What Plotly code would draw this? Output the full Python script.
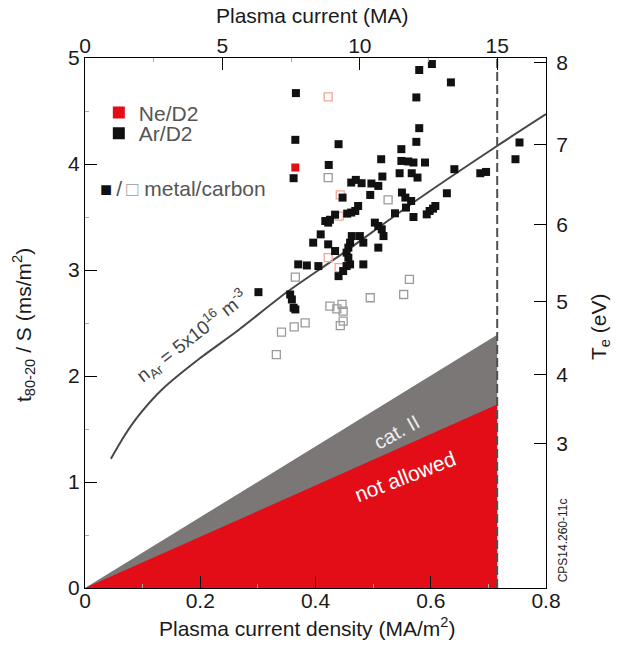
import plotly.graph_objects as go

# ---------------- data ----------------
# Ar/D2, metal wall (filled black squares): current density (MA/m2), t80-20/S (ms/m2)
ar_metal_j = [0.602, 0.580, 0.635, 0.366, 0.575, 0.580, 0.365, 0.575, 0.440, 0.549,
              0.514, 0.549, 0.561, 0.570, 0.590, 0.423, 0.641, 0.362, 0.546, 0.567,
              0.577, 0.516, 0.686, 0.696, 0.462, 0.470, 0.480, 0.497, 0.509, 0.754,
              0.747, 0.628, 0.495, 0.447, 0.550, 0.556, 0.566, 0.474, 0.469, 0.462,
              0.455, 0.608, 0.604, 0.598, 0.593, 0.538, 0.570, 0.557, 0.434, 0.425,
              0.417, 0.422, 0.503, 0.509, 0.515, 0.518, 0.409, 0.396, 0.477, 0.483,
              0.463, 0.460, 0.457, 0.454, 0.422, 0.434, 0.509, 0.370, 0.385, 0.405,
              0.457, 0.460, 0.454, 0.448, 0.440, 0.483, 0.301, 0.356, 0.359, 0.362,
              0.365]
ar_metal_t = [4.943, 4.887, 4.770, 4.669, 4.628, 4.338, 4.228, 4.209, 4.187, 4.140,
              4.045, 4.029, 4.024, 4.014, 4.014, 3.991, 3.951, 3.866, 3.913, 3.913,
              3.872, 3.882, 3.913, 3.925, 3.825, 3.850, 3.819, 3.816, 3.793, 4.203,
              4.045, 3.724, 3.708, 3.683, 3.731, 3.683, 3.651, 3.604, 3.557, 3.542,
              3.532, 3.604, 3.579, 3.557, 3.525, 3.535, 3.500, 3.589, 3.522, 3.474,
              3.462, 3.447, 3.447, 3.415, 3.384, 3.320, 3.336, 3.258, 3.320, 3.258,
              3.320, 3.258, 3.211, 3.164, 3.242, 3.179, 3.211, 3.053, 3.043, 3.037,
              3.116, 3.053, 3.037, 2.990, 2.942, 3.053, 2.791, 2.769, 2.722, 2.644,
              2.628]

# Ne/D2, metal wall (filled red)
ne_metal_j = [0.365]
ne_metal_t = [3.967]

# Ar/D2, carbon wall (open grey squares)
ar_carbon_j = [0.422, 0.526, 0.365, 0.563, 0.495, 0.553, 0.425, 0.446, 0.437, 0.448,
               0.448, 0.443, 0.382, 0.363, 0.341, 0.332]
ar_carbon_t = [3.872, 3.661, 2.933, 2.911, 2.738, 2.769, 2.659, 2.675, 2.634, 2.612,
               2.517, 2.476, 2.502, 2.464, 2.413, 2.202]

# Ne/D2, carbon wall (open light-red squares)
ne_carbon_j = [0.422, 0.443, 0.441, 0.422, 0.441]
ne_carbon_t = [4.634, 3.708, 3.509, 3.116, 3.022]

# n_Ar = 5e16 m^-3 curve
curve_j = [0.045, 0.070, 0.095, 0.135, 0.200, 0.263, 0.350, 0.443, 0.576, 0.715, 0.800]
curve_t = [1.22, 1.45, 1.64, 1.88, 2.17, 2.42, 2.79, 3.14, 3.66, 4.17, 4.47]

# limits (at the 15 MA line)
ip_limit = 15.0            # MA
ip_per_j = 20.97           # MA per (MA/m2)
limit_red_t = 1.73         # "not allowed" boundary at 15 MA
limit_cat2_t = 2.39        # "cat. II" boundary at 15 MA

# right axis (Te) tick labels and their positions in t80-20/S units
te_labels = ["3", "4", "5", "6", "7", "8"]
te_tick_t = [1.365, 2.01, 2.70, 3.43, 4.18, 4.96]

x_ticks = [0, 0.2, 0.4, 0.6, 0.8]
x_ticklabels = ["0", "0.2", "0.4", "0.6", "0.8"]
ip_ticks = [0, 5, 10, 15]

# ---------------- figure ----------------
FONT = "Liberation Sans, Arial, Helvetica, sans-serif"
j_lim = ip_limit / ip_per_j

fig = go.Figure()

fig.add_trace(go.Scatter(
    x=[0, j_lim, j_lim, 0], y=[0, limit_cat2_t, 0, 0],
    fill="toself", fillcolor="#7a7776", line=dict(width=0), mode="lines",
    showlegend=False, hoverinfo="skip"))
fig.add_trace(go.Scatter(
    x=[0, j_lim, j_lim, 0], y=[0, limit_red_t, 0, 0],
    fill="toself", fillcolor="#e30d17", line=dict(width=0), mode="lines",
    showlegend=False, hoverinfo="skip"))

fig.add_trace(go.Scatter(
    x=curve_j, y=curve_t, mode="lines",
    line=dict(color="#4a4545", width=2, shape="spline", smoothing=0.6),
    showlegend=False, hoverinfo="skip"))

fig.add_trace(go.Scatter(
    x=ar_carbon_j, y=ar_carbon_t, mode="markers", showlegend=False,
    marker=dict(symbol="square-open", size=8, color="#9b9b9b", line=dict(width=1.3))))
fig.add_trace(go.Scatter(
    x=ne_carbon_j, y=ne_carbon_t, mode="markers", showlegend=False,
    marker=dict(symbol="square-open", size=8, color="#f2a596", line=dict(width=1.3))))
fig.add_trace(go.Scatter(
    x=ar_metal_j, y=ar_metal_t, mode="markers", name="Ar/D2", legend="legend2",
    marker=dict(symbol="square", size=8, color="#111111", line=dict(width=0))))
fig.add_trace(go.Scatter(
    x=ne_metal_j, y=ne_metal_t, mode="markers", name="Ne/D2", legend="legend",
    marker=dict(symbol="square", size=8, color="#e30d17", line=dict(width=0))))

# 15 MA limit (drawn in the top-axis units)
fig.add_trace(go.Scatter(
    x=[ip_limit, ip_limit], y=[0, 5], xaxis="x2", yaxis="y2", mode="lines",
    line=dict(color="#505050", width=2, dash="9px,4px"),
    showlegend=False, hoverinfo="skip"))

tickfont = dict(family=FONT, size=21, color="#1a1a1a")
common = dict(showline=True, linecolor="black", linewidth=1, showgrid=False,
              zeroline=False, ticks="inside", ticklen=12, tickcolor="black",
              tickwidth=1, tickfont=tickfont)

legend_style = dict(xanchor="left", yanchor="top", bgcolor="rgba(0,0,0,0)",
                    font=dict(family=FONT, size=21, color="#555555"),
                    itemsizing="constant")

fig.update_layout(
    width=625, height=646, autosize=False,
    margin=dict(l=85, r=79, t=58, b=58, pad=0),
    paper_bgcolor="white", plot_bgcolor="white",
    font=dict(family=FONT, size=21, color="#1a1a1a"),
    xaxis=dict(range=[0, 0.8], tickvals=x_ticks, ticktext=x_ticklabels,
               ticklabelstandoff=-6,
               minor=dict(dtick=0.1, ticklen=4, tickcolor="#aaaaaa", ticks="inside"),
               **common),
    xaxis2=dict(range=[0, 0.8 * ip_per_j], overlaying="x", side="top",
                tickvals=ip_ticks, anchor="y2", ticklabelstandoff=-4,
                minor=dict(dtick=2.5, tick0=0, ticklen=4, tickcolor="#aaaaaa", ticks="inside"),
                **common),
    yaxis=dict(range=[0, 5], dtick=1, tick0=0,
               minor=dict(dtick=0.5, ticklen=4, tickcolor="#aaaaaa", ticks="inside"),
               **common),
    yaxis2=dict(range=[0, 5], overlaying="y", side="right", anchor="x2",
                tickvals=te_tick_t, ticktext=te_labels, ticklabelstandoff=5, **common),
    legend=dict(x=0.03, y=0.935, **legend_style),
    legend2=dict(x=0.03, y=0.896, **legend_style),
    showlegend=True,
)

ann = [
    dict(text="Plasma current (MA)", x=0.4935, y=1.081, font=dict(size=21)),
    dict(text="Plasma current density (MA/m<sup>2</sup>)", x=0.4816, y=-0.074, font=dict(size=21)),
    dict(text="t<sub>80-20</sub> / S (ms/m<sup>2</sup>)", x=-0.1345, y=0.496,
         textangle=-90, font=dict(size=21)),
    dict(text="T<sub>e</sub> (eV)", x=1.117, y=0.494, textangle=-90, font=dict(size=21)),
    dict(text="<span style='color:#111111;font-size:20px'>■</span>\u2009/\u2009"
              "<span style='color:#9b9b9b;font-size:20px'>□</span> metal/carbon",
         x=(98 - 85) / 461, y=(588 - 189) / 530, xanchor="left",
         font=dict(size=21, color="#555555")),
    dict(text="n<sub>Ar</sub> = 5x10<sup>16</sup> m<sup>-3</sup>", x=0.232, y=0.474,
         textangle=-38, font=dict(size=19, color="#444444")),
    dict(text="cat. II", x=0.676, y=0.295, textangle=-29,
         font=dict(size=20, color="#eeeeee")),
    dict(text="not allowed", x=0.694, y=0.21, textangle=-21,
         font=dict(size=21, color="#ffffff")),
    dict(text="CPS14.260-11c", x=1.037, y=0.09, textangle=-90,
         font=dict(size=12, color="#222222")),
]
for a in ann:
    a.setdefault("xanchor", "center")
    fig.add_annotation(xref="paper", yref="paper", showarrow=False,
                       yanchor="middle", **a)

fig.write_html("out.html")
